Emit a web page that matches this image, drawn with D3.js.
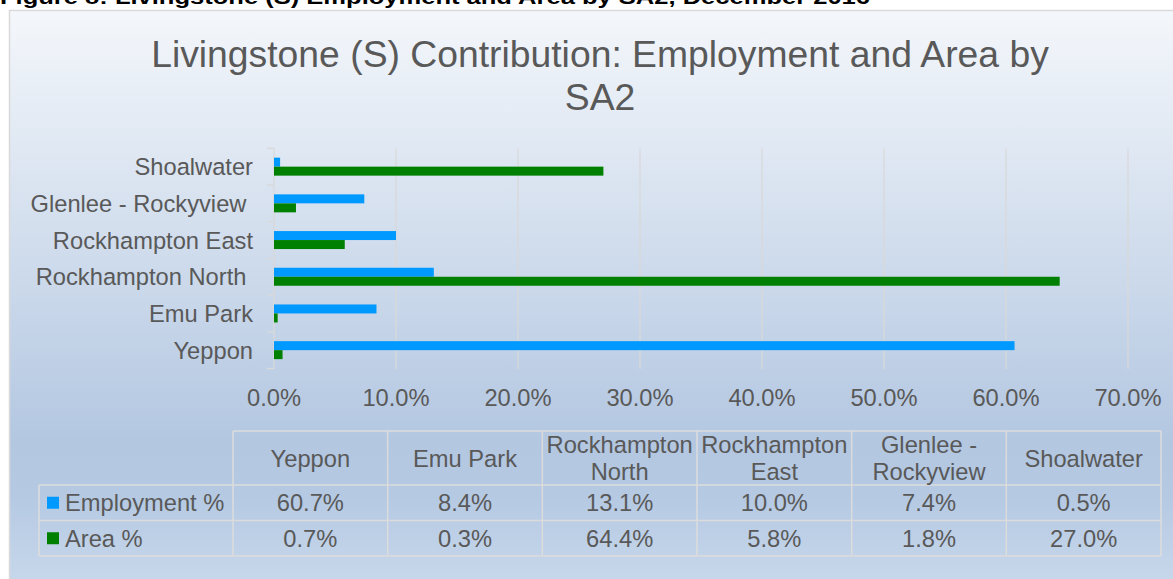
<!DOCTYPE html>
<html><head><meta charset="utf-8">
<script src="https://cdn.jsdelivr.net/npm/d3@7/dist/d3.min.js"></script>
<style>
html,body{margin:0;padding:0;background:#fff;overflow:hidden}
svg{display:block}
text{font-family:"Liberation Sans",Arial,sans-serif;fill:#595959}
</style></head><body>
<script>
const categories = ["Yeppon", "Emu Park", "Rockhampton North", "Rockhampton East", "Glenlee - Rockyview", "Shoalwater"];
const axisLabels = ["Yeppon", "Emu Park", "Rockhampton North ", "Rockhampton East", "Glenlee - Rockyview ", "Shoalwater"];
const tableHeaders = [["Yeppon"], ["Emu Park"], ["Rockhampton", "North"], ["Rockhampton", "East"], ["Glenlee -", "Rockyview"], ["Shoalwater"]];
const employment = [60.7, 8.4, 13.1, 10.0, 7.4, 0.5];
const area = [0.7, 0.3, 64.4, 5.8, 1.8, 27.0];
const seriesNames = ["Employment %", "Area %"];
const seriesColors = ["#0099FF", "#008000"];
const xTicks = [0, 10, 20, 30, 40, 50, 60, 70];
const titleLines = ["Livingstone (S) Contribution: Employment and Area by", "SA2"];
const caption = "Figure 8: Livingstone (S) Employment and Area by SA2, December 2016";

const W = 1173, H = 579;
const FS = "23.7px";
const svg = d3.select("body").append("svg").attr("width", W).attr("height", H);
const defs = svg.append("defs");
const grad = defs.append("linearGradient").attr("id", "bg").attr("x1", 0).attr("y1", 0).attr("x2", 0).attr("y2", 1);
[[0, "#f4f7fb"], [0.74, "#b3c7e1"], [0.83, "#b5c9e3"], [1, "#cadaec"]].forEach(s =>
  grad.append("stop").attr("offset", s[0]).attr("stop-color", s[1]));

// caption (clipped at top, as in the source)
svg.append("text").attr("x", 0).attr("y", 4)
  .attr("textLength", 870).attr("lengthAdjust", "spacingAndGlyphs")
  .style("font-weight", "bold").style("font-size", "21px").style("fill", "#000")
  .text(caption);

// chart frame
svg.append("rect").attr("x", 9.5).attr("y", 10.5).attr("width", 1180).attr("height", 585)
  .attr("fill", "url(#bg)").attr("stroke", "#d9d9d9").attr("stroke-width", 1.5);

// title
svg.append("g").selectAll("text").data(titleLines).join("text")
  .attr("x", 600).attr("y", (d, i) => 67 + i * 43)
  .attr("text-anchor", "middle").style("font-size", "37.3px")
  .text(d => d);

// scales
const x = d3.scaleLinear().domain([0, 70]).range([274, 1128]);
const yOrder = categories.map((c, i) => i).reverse();
const y = d3.scaleBand().domain(yOrder).range([148.3, 368.5]).paddingInner(0.51).paddingOuter(0.255);
const ySub = d3.scaleBand().domain([0, 1]).range([0, y.bandwidth()]);

// gridlines
svg.append("g").selectAll("line").data(xTicks.slice(1)).join("line")
  .attr("x1", d => x(d)).attr("x2", d => x(d)).attr("y1", 148.5).attr("y2", 369)
  .attr("stroke", "#d9d9d9").attr("stroke-width", 1.3);

// y axis
const yAxisBand = d3.scaleBand().domain(yOrder).range([148.3, 368.5]);
const ga = svg.append("g");
ga.append("line").attr("x1", 274).attr("x2", 274).attr("y1", 148.3).attr("y2", 368.5)
  .attr("stroke", "#d9d9d9").attr("stroke-width", 1.3);
const bounds = yOrder.map(d => yAxisBand(d)).concat([yAxisBand(yOrder[yOrder.length - 1]) + yAxisBand.bandwidth()]);
ga.selectAll("line.t").data(bounds).join("line").attr("class", "t")
  .attr("x1", 267).attr("x2", 274).attr("y1", d => d).attr("y2", d => d)
  .attr("stroke", "#d9d9d9").attr("stroke-width", 1.3);

svg.append("g").selectAll("text").data(yOrder).join("text")
  .attr("x", 253).attr("y", d => yAxisBand(d) + yAxisBand.bandwidth() / 2 + 8.5)
  .attr("text-anchor", "end").style("font-size", FS).style("white-space", "pre")
  .text(d => axisLabels[d]);

// bars
const series = [employment, area];
series.forEach((vals, s) => {
  svg.append("g").selectAll("rect").data(categories.map((c, i) => i)).join("rect")
    .attr("x", x(0)).attr("y", i => y(i) + ySub(s))
    .attr("width", i => x(vals[i]) - x(0)).attr("height", ySub.bandwidth())
    .attr("fill", seriesColors[s]);
});

// x tick labels
svg.append("g").selectAll("text").data(xTicks).join("text")
  .attr("x", d => x(d)).attr("y", 406).attr("text-anchor", "middle").style("font-size", FS)
  .text(d => d3.format(".1f")(d) + "%");

// data table
const tc = d3.scaleBand().domain(categories.map((c, i) => i)).range([233, 1161]);
const rowsY = [431, 485, 520.5, 556];
const tg = svg.append("g");
const lineCol = "#dcdcdc";
tg.append("line").attr("x1", 233).attr("x2", 1161).attr("y1", rowsY[0]).attr("y2", rowsY[0]).attr("stroke", lineCol).attr("stroke-width", 1.5);
rowsY.slice(1).forEach(yy => tg.append("line").attr("x1", 39).attr("x2", 1161).attr("y1", yy).attr("y2", yy).attr("stroke", lineCol).attr("stroke-width", 1.5));
const colEdges = categories.map((c, i) => tc(i)).concat([1161]);
tg.selectAll("line.v").data(colEdges).join("line").attr("class", "v")
  .attr("x1", d => d).attr("x2", d => d).attr("y1", rowsY[0]).attr("y2", rowsY[3])
  .attr("stroke", lineCol).attr("stroke-width", 1.5);
tg.append("line").attr("x1", 39).attr("x2", 39).attr("y1", rowsY[1]).attr("y2", rowsY[3]).attr("stroke", lineCol).attr("stroke-width", 1.5);

categories.forEach((c, i) => {
  const lines = tableHeaders[i];
  const cx = tc(i) + tc.bandwidth() / 2;
  const cy = (rowsY[0] + rowsY[1]) / 2;
  lines.forEach((ln, j) => {
    tg.append("text").attr("x", cx).attr("y", cy + 8.5 + (j - (lines.length - 1) / 2) * 27)
      .attr("text-anchor", "middle").style("font-size", FS).text(ln);
  });
});
series.forEach((vals, s) => {
  const cy = (rowsY[s + 1] + rowsY[s + 2]) / 2;
  tg.append("rect").attr("x", 47).attr("y", cy - 6).attr("width", 12).attr("height", 12).attr("fill", seriesColors[s]);
  tg.append("text").attr("x", 65).attr("y", cy + 8.5).style("font-size", FS).text(seriesNames[s]);
  tg.selectAll(null).data(vals).join("text")
    .attr("x", (v, i) => tc(i) + tc.bandwidth() / 2).attr("y", cy + 8.5)
    .attr("text-anchor", "middle").style("font-size", FS)
    .text(v => d3.format(".1f")(v) + "%");
});
</script>
</body></html>
